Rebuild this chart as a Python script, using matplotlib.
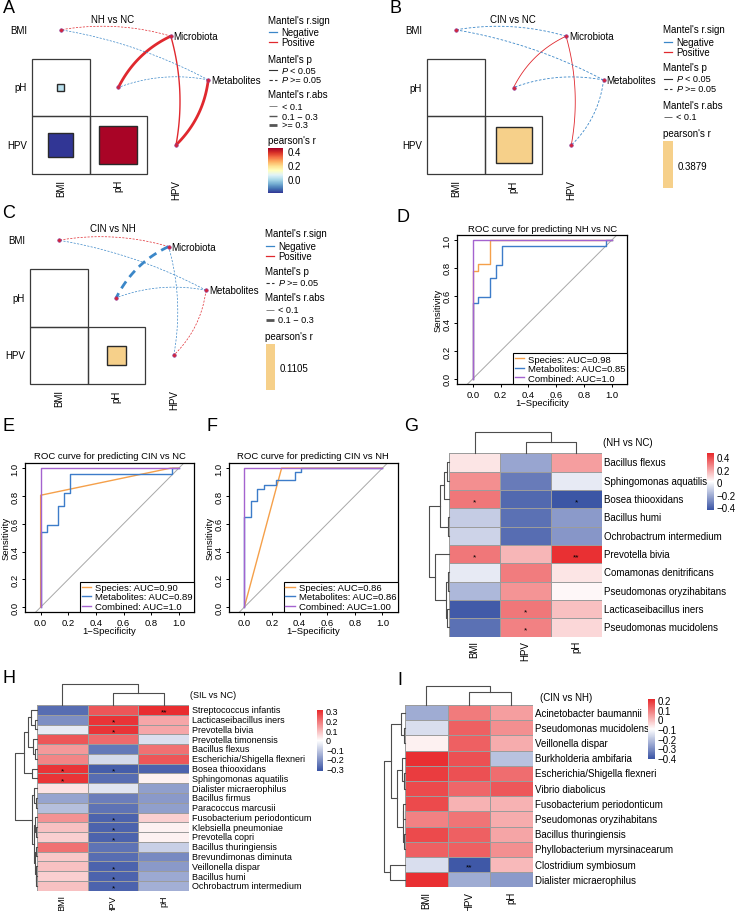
import numpy as np
import matplotlib
matplotlib.use("Agg")
import matplotlib.pyplot as plt
from matplotlib.lines import Line2D
from matplotlib.patches import Rectangle
from matplotlib.colors import LinearSegmentedColormap, ListedColormap, Normalize
from matplotlib.cm import ScalarMappable

plt.rcParams['font.family'] = ['Liberation Sans', 'DejaVu Sans']

# ======================= DATA =======================
mantel_vars = ["BMI", "pH", "HPV"]
mantel_envs = ["Microbiota", "Metabolites"]
sign_levels = ["Negative", "Positive"]
rabs_levels = ["< 0.1", "0.1 \u2212 0.3", ">= 0.3"]

# pearson's r between environmental variables (row, column)
pearson_A = {("pH", "BMI"): 0.015, ("HPV", "BMI"): -0.188, ("HPV", "pH"): 0.434}
pearson_B = {("HPV", "pH"): 0.3879}
pearson_C = {("HPV", "pH"): 0.1105}

# Mantel edges: (env, variable, sign, p < 0.05, r.abs class)
edges_A = [("Microbiota", "BMI", "Positive", False, "< 0.1"),
           ("Microbiota", "pH", "Positive", True, ">= 0.3"),
           ("Microbiota", "HPV", "Positive", True, "0.1 \u2212 0.3"),
           ("Metabolites", "BMI", "Negative", False, "< 0.1"),
           ("Metabolites", "pH", "Negative", False, "< 0.1"),
           ("Metabolites", "HPV", "Positive", True, ">= 0.3")]
edges_B = [("Microbiota", "BMI", "Negative", False, "< 0.1"),
           ("Microbiota", "pH", "Positive", True, "< 0.1"),
           ("Microbiota", "HPV", "Positive", True, "< 0.1"),
           ("Metabolites", "BMI", "Negative", False, "< 0.1"),
           ("Metabolites", "pH", "Negative", False, "< 0.1"),
           ("Metabolites", "HPV", "Negative", False, "< 0.1")]
edges_C = [("Microbiota", "BMI", "Positive", False, "< 0.1"),
           ("Microbiota", "pH", "Negative", False, "0.1 \u2212 0.3"),
           ("Microbiota", "HPV", "Negative", False, "< 0.1"),
           ("Metabolites", "BMI", "Negative", False, "< 0.1"),
           ("Metabolites", "pH", "Negative", False, "< 0.1"),
           ("Metabolites", "HPV", "Positive", False, "< 0.1")]

# ROC curves (1-specificity, sensitivity)
roc_models = ["Species", "Metabolites", "Combined"]
rocD_species_x = [0, 0, 0.04, 0.04, 0.125, 0.125, 1]
rocD_species_y = [0, 0.78, 0.78, 0.83, 0.83, 1, 1]
rocD_metab_x = [0, 0, 0.04, 0.04, 0.125, 0.125, 0.167, 0.167, 0.208, 0.208, 0.958, 0.958, 1]
rocD_metab_y = [0, 0.545, 0.545, 0.59, 0.59, 0.727, 0.727, 0.818, 0.818, 0.955, 0.955, 1, 1]
rocD_comb_x = [0, 0, 1]
rocD_comb_y = [0, 1, 1]
rocD_auc = ["0.98", "0.85", "1.0"]

rocE_species_x = [0, 0, 0.94, 1]
rocE_species_y = [0, 0.805, 1, 1]
rocE_metab_x = [0, 0, 0.043, 0.043, 0.127, 0.127, 0.17, 0.17, 0.21, 0.21, 0.952, 0.952, 1]
rocE_metab_y = [0, 0.544, 0.544, 0.592, 0.592, 0.727, 0.727, 0.823, 0.823, 0.957, 0.957, 1, 1]
rocE_comb_x = [0, 0, 1]
rocE_comb_y = [0, 1, 1]
rocE_auc = ["0.90", "0.89", "1.0"]

rocF_species_x = [0, 0.27, 1]
rocF_species_y = [0, 1, 1]
rocF_metab_x = [0, 0, 0.045, 0.045, 0.09, 0.09, 0.14, 0.14, 0.23, 0.23, 0.37, 0.37, 0.41, 0.41, 1]
rocF_metab_y = [0, 0.647, 0.647, 0.765, 0.765, 0.853, 0.853, 0.882, 0.882, 0.912, 0.912, 0.97, 0.97, 1, 1]
rocF_comb_x = [0, 0, 1]
rocF_comb_y = [0, 1, 1]
rocF_auc = ["0.86", "0.86", "1.00"]

# Heatmaps
hm_cols = ["BMI", "HPV", "pH"]
G_rows = ["Bacillus flexus", "Sphingomonas aquatilis", "Bosea thiooxidans", "Bacillus humi",
          "Ochrobactrum intermedium", "Prevotella bivia", "Comamonas denitrificans",
          "Pseudomonas oryzihabitans", "Lacticaseibacillus iners", "Pseudomonas mucidolens"]
G_vals = [[0.07, -0.22, 0.22],
          [0.25, -0.33, -0.04],
          [0.30, -0.38, -0.43],
          [-0.12, -0.36, -0.25],
          [-0.10, -0.37, -0.26],
          [0.30, 0.17, 0.45],
          [-0.04, 0.29, 0.07],
          [-0.17, 0.24, 0.03],
          [-0.42, 0.30, 0.15],
          [-0.36, 0.28, 0.10]]
G_stars = [["", "", ""], ["", "", ""], ["*", "", "*"], ["", "", ""], ["", "", ""],
           ["*", "", "**"], ["", "", ""], ["", "", ""], ["", "*", ""], ["", "*", ""]]

H_rows = ["Streptococcus infantis", "Lacticaseibacillus iners", "Prevotella bivia",
          "Prevotella timonensis", "Bacillus flexus", "Escherichia/Shigella flexneri",
          "Bosea thiooxidans", "Sphingomonas aquatilis", "Dialister micraerophilus",
          "Bacillus firmus", "Paracoccus marcusii", "Fusobacterium periodonticum",
          "Klebsiella pneumoniae", "Prevotella copri", "Bacillus thuringiensis",
          "Brevundimonas diminuta", "Veillonella dispar", "Bacillus humi",
          "Ochrobactrum intermedium"]
H_vals = [[-0.28, 0.24, 0.30],
          [-0.22, 0.29, 0.12],
          [-0.05, 0.29, 0.12],
          [0.24, 0.21, -0.07],
          [0.14, -0.26, 0.20],
          [0.17, -0.08, 0.24],
          [0.29, -0.31, -0.30],
          [0.29, -0.28, 0.01],
          [0.03, -0.06, -0.19],
          [-0.18, -0.25, -0.20],
          [-0.13, -0.27, -0.19],
          [0.15, -0.30, 0.06],
          [0.08, -0.30, 0.01],
          [0.06, -0.30, 0.01],
          [0.20, -0.27, -0.10],
          [0.07, -0.28, -0.23],
          [0.08, -0.30, -0.20],
          [0.06, -0.30, -0.17],
          [0.08, -0.30, -0.16]]
H_stars = [["", "", "**"], ["", "*", ""], ["", "*", ""], ["", "", ""], ["", "", ""],
           ["", "", ""], ["*", "*", ""], ["*", "", ""], ["", "", ""], ["", "", ""],
           ["", "", ""], ["", "*", ""], ["", "*", ""], ["", "*", ""], ["", "", ""],
           ["", "", ""], ["", "*", ""], ["", "*", ""], ["", "*", ""]]

I_rows = ["Acinetobacter baumannii", "Pseudomonas mucidolens", "Veillonella dispar",
          "Burkholderia ambifaria", "Escherichia/Shigella flexneri", "Vibrio diabolicus",
          "Fusobacterium periodonticum", "Pseudomonas oryzihabitans", "Bacillus thuringiensis",
          "Phyllobacterium myrsinacearum", "Clostridium symbiosum", "Dialister micraerophilus"]
I_vals = [[-0.25, 0.09, 0.04],
          [-0.16, 0.13, 0.06],
          [-0.08, 0.13, 0.02],
          [0.20, 0.15, -0.21],
          [0.18, 0.15, 0.11],
          [0.16, 0.12, 0.14],
          [0.16, 0.01, 0.01],
          [0.08, 0.10, 0.02],
          [0.16, 0.13, 0.03],
          [0.13, 0.13, 0.06],
          [-0.16, -0.40, 0.00],
          [0.20, -0.25, -0.28]]
I_stars = [["", "", ""]] * 10 + [["", "**", ""], ["", "", ""]]

# dendrogram trees: (left, right, height), leaves = display index
G_row_tree = ((((0, 1, 0.09), 2, 0.28), (3, 4, 0.05), 0.48),
              (5, ((6, 7, 0.05), (8, 9, 0.10), 0.17), 0.69), 1.0)
G_col_tree = (0, (1, 2, 0.53), 1.0)
H_row_tree = (((((0, (1, 2, 0.10), 0.28), (3, (4, 5, 0.10), 0.15), 0.38), (6, 7, 0.23), 0.58)),
              ((8, (9, 10, 0.05), 0.12),
               ((11, (12, 13, 0.03), 0.06), ((14, 15, 0.05), (16, (17, 18, 0.02), 0.04), 0.08), 0.12),
               0.2), 1.0)
H_col_tree = (0, (1, 2, 0.57), 1.0)
I_row_tree = (((0, (1, 2, 0.05), 0.19),
               ((3, (4, 5, 0.03), 0.14), ((6, 7, 0.08), (8, 9, 0.05), 0.10), 0.40), 0.68),
              (10, 11, 0.71), 1.0)
I_col_tree = (0, (1, 2, 0.69), 1.0)

# ======================= STYLE / LAYOUT =======================
W, H = 735, 912
fig = plt.figure(figsize=(W / 100, H / 100), dpi=100)
FS = 7
POS_C, NEG_C = "#e0282e", "#3b87c8"
sign_color = {"Negative": NEG_C, "Positive": POS_C}
DASH = (0, (3, 2))
pearson_cmap = plt.get_cmap("RdYlBu_r")
single_fill = "#f6d08a"
hm_cmap = LinearSegmentedColormap.from_list("hm", ["#3953a4", "#ffffff", "#e8282b"])
roc_colors = ["#f5a04a", "#3d7cc9", "#a463cf"]


def fx(x):
    return x / W


def fy(y):
    return 1 - y / H


def px_axes(x0, y0, x1, y1):
    return fig.add_axes([x0 / W, 1 - y1 / H, (x1 - x0) / W, (y1 - y0) / H])


def ftext(x, y, s, **kw):
    kw.setdefault("fontsize", FS)
    kw.setdefault("va", "center")
    return fig.text(fx(x), fy(y), s, **kw)


def fline(x0, x1, y, **kw):
    fig.add_artist(Line2D([fx(x0), fx(x1)], [fy(y), fy(y)], transform=fig.transFigure, **kw))


def curve(p0, p1, sag=0.11, n=80):
    """quadratic bezier, bowing towards the upper right by a fixed sagitta"""
    p0 = np.asarray(p0, float)
    p1 = np.asarray(p1, float)
    d = p1 - p0
    L = np.hypot(*d)
    nrm = np.array([d[1], -d[0]]) / L
    if nrm[0] - nrm[1] < 0:
        nrm = -nrm
    c = (p0 + p1) / 2 + nrm * 2 * sag
    t = np.linspace(0, 1, n)[:, None]
    pts = (1 - t) ** 2 * p0 + 2 * t * (1 - t) * c + t ** 2 * p1
    return pts[:, 0], pts[:, 1]


ENV_POS = {"Microbiota": (2.41, 0.61), "Metabolites": (3.06, 1.37)}


def mantel_panel(region, origin, cell, pearson, edges, widths, cmap, norm,
                 title, title_xy, leg_x, leg_ys, cbar_rect, single=None):
    px0, py0, px1, py1 = region
    gx, gy = origin
    ax = px_axes(px0, py0, px1, py1)
    ax.set_xlim((px0 - gx) / cell, (px1 - gx) / cell)
    ax.set_ylim((py1 - gy) / cell, (py0 - gy) / cell)
    ax.axis("off")
    n = len(mantel_vars)
    for i in range(n):
        for j in range(i):
            ax.add_patch(Rectangle((j, i), 1, 1, fill=False, edgecolor="#3a3a3a", lw=0.9))
    for (rv, cv), r in pearson.items():
        i, j = mantel_vars.index(rv), mantel_vars.index(cv)
        s = np.sqrt(abs(r))
        ax.add_patch(Rectangle((j + 0.5 - s / 2, i + 0.5 - s / 2), s, s,
                               facecolor=cmap(norm(r)), edgecolor="#2a2a2a", lw=1.0, zorder=2))
    for i, v in enumerate(mantel_vars):
        ax.text(-0.09, i + 0.5, v, ha="right", va="center", fontsize=FS)
        ax.text(i + 0.5, 3.09, v, rotation=90, ha="center", va="top", fontsize=FS)
    for env, var, sign, sig, rabs in edges:
        k = mantel_vars.index(var)
        xs, ys = curve(ENV_POS[env], (k + 0.5, k + 0.5))
        ax.plot(xs, ys, color=sign_color[sign], lw=widths[rabs],
                ls="-" if sig else DASH, solid_capstyle="butt", zorder=3)
    for k in range(n):
        ax.plot(k + 0.5, k + 0.5, "o", ms=2.6, mfc="#d5263a", mec="#8a3a9a", mew=0.4, zorder=4)
    for env in mantel_envs:
        ex, ey = ENV_POS[env]
        ax.plot(ex, ey, "o", ms=2.6, mfc="#d5263a", mec="#8a3a9a", mew=0.4, zorder=4)
        ax.text(ex + 0.05, ey, env, ha="left", va="center", fontsize=FS)
    ftext(title_xy[0], title_xy[1], title, ha="center")

    # legend
    signs = [s for s in sign_levels if any(e[2] == s for e in edges)]
    ps = [p for p in [True, False] if any(e[3] == p for e in edges)]
    rabs = [r for r in rabs_levels if any(e[4] == r for e in edges)]
    ys = iter(leg_ys)
    lx0, lx1, tx = leg_x + 1, leg_x + 8.5, leg_x + 13.5
    ftext(leg_x, next(ys), "Mantel's r.sign")
    for s in signs:
        y = next(ys)
        fline(lx0, lx1, y, color=sign_color[s], lw=0.9)
        ftext(tx, y, s, fontsize=6.9)
    ftext(leg_x, next(ys), "Mantel's p")
    for p in ps:
        y = next(ys)
        fline(lx0, lx1, y, color="#333333", lw=0.8, ls="-" if p else DASH)
        ftext(tx, y, "P", fontsize=6.6, style="italic")
        ftext(tx + 8.8, y, "< 0.05" if p else ">= 0.05", fontsize=6.6)
    ftext(leg_x, next(ys), "Mantel's r.abs")
    for r in rabs:
        y = next(ys)
        fline(lx0, lx1, y, color="#555555", lw=widths[r], solid_capstyle="butt")
        ftext(tx, y, r, fontsize=6.6)
    ftext(leg_x, next(ys), "pearson's r")
    cax = px_axes(*cbar_rect)
    if single is None:
        cb = fig.colorbar(ScalarMappable(norm=norm, cmap=cmap), cax=cax, ticks=[0.0, 0.2, 0.4],
                          format="%.1f")
    else:
        cb = fig.colorbar(ScalarMappable(norm=norm, cmap=cmap), cax=cax, ticks=[single],
                          format="%.4f")
    cb.outline.set_visible(False)
    cax.tick_params(length=0, labelsize=FS, pad=3)


# ---- Panel A
normA = Normalize(-0.19, 0.44)
mantel_panel((0, 0, 262, 208), (32, 2), 57.6, pearson_A, edges_A,
             {"< 0.1": 0.5, "0.1 \u2212 0.3": 1.0, ">= 0.3": 2.0},
             pearson_cmap, normA, "NH vs NC", (113, 20), 268,
             [21, 33, 43, 60, 71, 80.5, 95, 107, 117, 126, 141], (268, 149, 283, 194))
# ---- Panel B
normB = Normalize(pearson_B[("HPV", "pH")] - 0.5, pearson_B[("HPV", "pH")] + 0.5)
mantel_panel((380, 0, 660, 208), (427, 2), 57.7, pearson_B, edges_B,
             {"< 0.1": 0.6}, ListedColormap([single_fill]), normB, "CIN vs NC", (513, 20), 663,
             [30, 43, 52.5, 68, 79.5, 89.5, 106, 118, 134], (663, 142, 673, 189),
             single=pearson_B[("HPV", "pH")])
# ---- Panel C
normC = Normalize(pearson_C[("HPV", "pH")] - 0.5, pearson_C[("HPV", "pH")] + 0.5)
mantel_panel((0, 208, 262, 412), (30, 212.5), 57.5, pearson_C, edges_C,
             {"< 0.1": 0.5, "0.1 \u2212 0.3": 2.0}, ListedColormap([single_fill]), normC,
             "CIN vs NH", (113, 229), 265,
             [234, 247, 257, 272, 284, 298, 310.5, 320.5, 337], (266, 345, 275, 391),
             single=pearson_C[("HPV", "pH")])


# ======================= ROC panels =======================
def roc_panel(rect, title, xs, ys, aucs):
    x0, y0, x1, y1 = rect
    ax = px_axes(x0, y0, x1, y1)
    ax.set_xlim(-0.111, 1.11)
    ax.set_ylim(-0.037, 1.037)
    ax.axline((0, 0), (1, 1), color="#a8a8a8", lw=0.7, zorder=1)
    for name, c, fxv, fyv, auc in zip(roc_models, roc_colors, xs, ys, aucs):
        ax.plot(fxv, fyv, color=c, lw=1.0, label=f"{name}: AUC={auc}", zorder=2)
    ticks = np.round(np.arange(0, 1.01, 0.2), 1)
    ax.set_xticks(ticks)
    ax.set_yticks(ticks)
    ax.set_xticklabels([f"{t:.1f}" for t in ticks])
    ax.set_yticklabels([f"{t:.1f}" for t in ticks], rotation=90, va="center")
    ax.tick_params(direction="out", length=2.5, width=0.7, labelsize=6.8, pad=1.5)
    for sp in ax.spines.values():
        sp.set_linewidth(0.9)
    h = y1 - y0
    w = x1 - x0
    ax.text(0.5, 1 + 7 / h, title, transform=ax.transAxes, ha="center", va="center", fontsize=6.8)
    ax.text(0.5, -18 / h, "1\u2212Specificity", transform=ax.transAxes, ha="center",
            va="center", fontsize=6.8)
    ax.text(-19 / w, 0.5, "Sensitivity", transform=ax.transAxes, ha="center", va="center",
            rotation=90, fontsize=6.8)
    leg = ax.legend(loc="lower right", borderaxespad=0, fontsize=6.8, handlelength=1.0,
                    handletextpad=0.4, borderpad=0.15, labelspacing=0.05, fancybox=False,
                    framealpha=1)
    leg.get_frame().set_edgecolor("black")
    leg.get_frame().set_linewidth(0.8)


roc_panel((457.3, 236, 627, 385), "ROC curve for predicting NH vs NC",
          [rocD_species_x, rocD_metab_x, rocD_comb_x],
          [rocD_species_y, rocD_metab_y, rocD_comb_y], rocD_auc)
roc_panel((25.3, 464, 194, 613.3), "ROC curve for predicting CIN vs NC",
          [rocE_species_x, rocE_metab_x, rocE_comb_x],
          [rocE_species_y, rocE_metab_y, rocE_comb_y], rocE_auc)
roc_panel((229, 464, 397.6, 613.3), "ROC curve for predicting CIN vs NH",
          [rocF_species_x, rocF_metab_x, rocF_comb_x],
          [rocF_species_y, rocF_metab_y, rocF_comb_y], rocF_auc)


# ======================= Heatmaps =======================
def draw_tree(ax, node, orient):
    if isinstance(node, int):
        return node + 0.5, 0.0
    l, r, h = node
    lp, lh = draw_tree(ax, l, orient)
    rp, rh = draw_tree(ax, r, orient)
    pos = [lp, lp, rp, rp]
    hts = [lh, h, h, rh]
    if orient == "top":
        ax.plot(pos, hts, color="#4d4d4d", lw=0.8, clip_on=False)
    else:
        ax.plot(hts, pos, color="#4d4d4d", lw=0.8, clip_on=False)
    return (lp + rp) / 2, h


def heatmap(rect, rows, vals, stars, vmin, vmax, row_tree, col_tree, rd_x0, cd_y0,
            title, title_xy, cbar_rect, cticks, lfs):
    x0, y0, x1, y1 = rect
    data = np.array(vals)
    nr, nc = data.shape
    ax = px_axes(x0, y0, x1, y1)
    ax.pcolormesh(np.arange(nc + 1), np.arange(nr + 1), data, cmap=hm_cmap, vmin=vmin,
                  vmax=vmax, edgecolors="#9c9c9c", linewidth=0.7)
    ax.set_xlim(0, nc)
    ax.set_ylim(nr, 0)
    ax.axis("off")
    for i, name in enumerate(rows):
        ax.annotate(name, (nc, i + 0.5), xytext=(2, 0), textcoords="offset points",
                    ha="left", va="center", fontsize=lfs, annotation_clip=False)
        for j in range(nc):
            if stars[i][j]:
                ax.annotate(stars[i][j], (j + 0.5, i + 0.5), xytext=(0, -1.8),
                            textcoords="offset points", ha="center", va="center", fontsize=6)
    for j, name in enumerate(hm_cols):
        ax.annotate(name, (j + 0.5, nr), xytext=(0, -2.5), textcoords="offset points",
                    ha="center", va="top", rotation=90, fontsize=lfs, annotation_clip=False)
    rax = px_axes(rd_x0, y0, x0, y1)
    rax.set_ylim(nr, 0)
    rax.set_xlim(1.0, 0)
    rax.axis("off")
    draw_tree(rax, row_tree, "left")
    cax_d = px_axes(x0, cd_y0, x1, y0)
    cax_d.set_xlim(0, nc)
    cax_d.set_ylim(0, 1.0)
    cax_d.axis("off")
    draw_tree(cax_d, col_tree, "top")
    ftext(title_xy[0], title_xy[1], title, ha="left", fontsize=lfs)
    cbax = px_axes(*cbar_rect)
    cb = fig.colorbar(ScalarMappable(norm=Normalize(vmin, vmax), cmap=hm_cmap), cax=cbax,
                      ticks=cticks)
    cb.set_ticklabels(["0" if abs(t) < 1e-9 else f"{t:.1f}".replace("-", "\u2212")
                       for t in cticks])
    cb.outline.set_visible(False)
    cbax.tick_params(length=0, labelsize=lfs, pad=2)


heatmap((449.3, 454.3, 601.7, 637.5), G_rows, G_vals, G_stars, -0.44, 0.47,
        G_row_tree, G_col_tree, 429, 433, "(NH vs NC)", (603, 443),
        (707, 454, 713.5, 511), [0.4, 0.2, 0.0, -0.2, -0.4], 7.0)
heatmap((36.7, 706, 189.3, 891.7), H_rows, H_vals, H_stars, -0.33, 0.31,
        H_row_tree, H_col_tree, 15, 685, "(SIL vs NC)", (190, 696),
        (316.7, 711, 323.3, 772), [0.3, 0.2, 0.1, 0.0, -0.1, -0.2, -0.3], 6.5)
heatmap((405, 706, 532.7, 888.3), I_rows, I_vals, I_stars, -0.41, 0.21,
        I_row_tree, I_col_tree, 384, 686.7, "(CIN vs NH)", (540, 698),
        (648, 700, 654.7, 760), [0.2, 0.1, 0.0, -0.1, -0.2, -0.3, -0.4], 7.0)

# ======================= Panel letters =======================
for letter, (lx, ly) in {"A": (3, 0), "B": (389, 0), "C": (2, 205), "D": (397, 209),
                         "E": (2, 418), "F": (206, 418), "G": (404, 418), "H": (2, 670),
                         "I": (397, 672)}.items():
    ftext(lx, ly, letter, fontsize=13, ha="left", va="top")

fig.savefig("out.png", dpi=100)
